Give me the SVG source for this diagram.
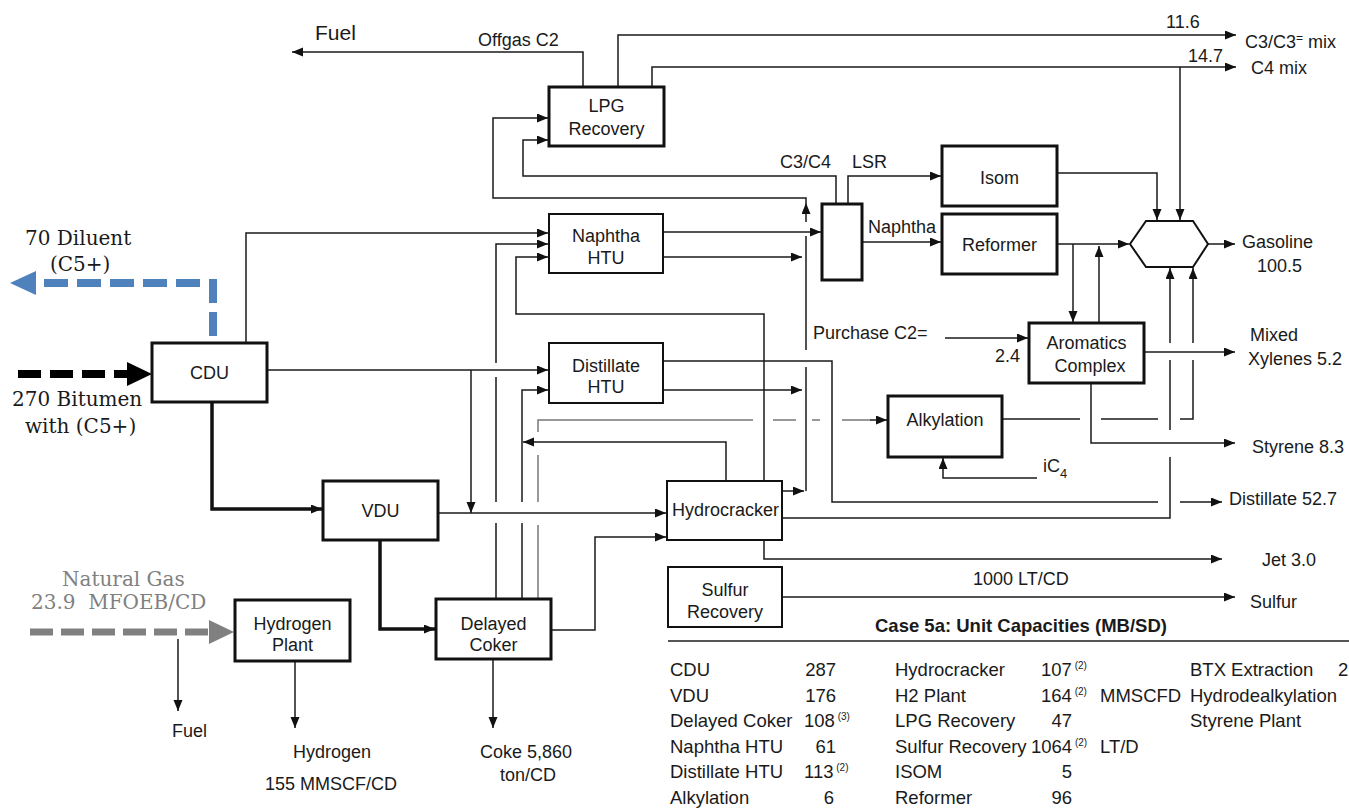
<svg xmlns="http://www.w3.org/2000/svg" width="1349" height="808" viewBox="0 0 1349 808">
<defs>
<marker id="arr" markerUnits="userSpaceOnUse" markerWidth="12" markerHeight="10" refX="11" refY="4.5" orient="auto"><path d="M0,0 L11,4.5 L0,9 z" fill="#111"/></marker>
<style>
text{font-family:"Liberation Sans",Arial,sans-serif;font-size:18px;fill:#1a1a1a}
.box{fill:#fff;stroke:#111;stroke-width:3}
.thin{fill:#fff;stroke:#111;stroke-width:2}
.c{fill:none;stroke:#1a1a1a;stroke-width:1.5}
.ca{fill:none;stroke:#1a1a1a;stroke-width:1.5;marker-end:url(#arr)}
.thick{fill:none;stroke:#111;stroke-width:3.5;marker-end:url(#arr)}
.gr{fill:none;stroke:#777;stroke-width:1.5}
.serif{font-family:"DejaVu Serif","Liberation Serif",serif;font-size:20px}
.tb{font-size:18.5px}
.sup{font-size:10px}
</style>
</defs>
<rect width="1349" height="808" fill="#fff"/>

<g id="connectors">
<path class="ca" d="M583,87 V52 H292"/>
<path class="ca" d="M618,87 V35 H1236"/>
<path class="ca" d="M652,87 V67 H1236"/>
<path class="ca" d="M1180,67 V220"/>
<path class="ca" d="M806,491 V367 M806,350 V236 M806,222 V203"/>
<path class="ca" d="M806,203 V198 H493 V118 H548"/>
<path class="ca" d="M836,204 V176 H523 V140 H548"/>
<path class="ca" d="M848,204 V176 H941"/>
<path class="ca" d="M862,242 H941"/>
<path class="ca" d="M246,343 V233 H548"/>
<path class="ca" d="M496,599 V523 M496,502 V377 M496,363 V244 H548"/>
<path class="ca" d="M764,481 V314 H516 V257 H548"/>
<path class="ca" d="M663,361 H832 V502 H1158 M1180,502 H1222"/>
<path class="ca" d="M663,390 H802"/>
<path class="ca" d="M663,257 H802"/>
<path class="ca" d="M663,232 H821"/>
<path class="ca" d="M267,370 H548"/>
<path class="ca" d="M471,370 V513"/>
<path class="ca" d="M522,599 V523 M522,502 V390 H548"/>
<path class="ca" d="M726,481 V442 H523"/>
<path class="gr" d="M538,599 V525 M538,502 V455 M538,432 V420 H753 M773,420 H796 M812,420 H820 M842,420 H870"/>
<path class="ca" d="M870,420 H887"/>
<path class="ca" d="M438,513 H666"/>
<path class="ca" d="M551,630 H595 V537 H666"/>
<path class="thick" d="M212,402 V509 H322"/>
<path class="thick" d="M380,540 V629 H435"/>
<path class="ca" d="M782,491 H804"/>
<path class="ca" d="M782,518 H1170 V457 M1170,430 V360 M1170,343 V268"/>
<path class="ca" d="M764,540 V559 H1222"/>
<path class="ca" d="M782,597 H1235"/>
<path class="ca" d="M1057,173 H1157 V220"/>
<path class="ca" d="M1057,244 H1129"/>
<path class="ca" d="M1073,244 V322"/>
<path class="ca" d="M1099,323 V246"/>
<path class="ca" d="M1208,244 H1235"/>
<path class="ca" d="M1002,419 H1080 M1101,419 H1158 M1180,419 H1193 V360 M1193,343 V268"/>
<path class="ca" d="M1144,352 H1235"/>
<path class="ca" d="M1091,383 V443 H1235"/>
<path class="ca" d="M945,338 H1028"/>
<path class="ca" d="M1037,478 H943 V458"/>
<path d="M213,336 V283 H34" fill="none" stroke="#4f81bd" stroke-width="8" stroke-dasharray="24 9"/>
<polygon points="10,283 36,271 36,295" fill="#4f81bd"/>
<path d="M18,374 H127" fill="none" stroke="#000" stroke-width="8" stroke-dasharray="23 9"/>
<polygon points="127,362 152,374 127,386" fill="#000"/>
<path d="M30,632 H210" fill="none" stroke="#808080" stroke-width="7" stroke-dasharray="23 8"/>
<polygon points="209,620 234,632 209,644" fill="#808080"/>
<path class="ca" d="M178,639 V711"/>
<path class="ca" d="M295,661 V728"/>
<path class="ca" d="M493,659 V728"/>
</g>

<g id="lpg"><rect class="box" x="549" y="87" width="115" height="59"/><text x="606.5" y="112" text-anchor="middle">LPG</text><text x="606.5" y="135" text-anchor="middle">Recovery</text></g>
<g id="naphtha-htu"><rect class="thin" x="549" y="214" width="114" height="59"/><text x="606" y="242" text-anchor="middle">Naphtha</text><text x="606" y="264" text-anchor="middle">HTU</text></g>
<g id="distillate-htu"><rect class="thin" x="549" y="343" width="114" height="60"/><text x="606" y="372" text-anchor="middle">Distillate</text><text x="606" y="393" text-anchor="middle">HTU</text></g>
<g id="cdu"><rect class="box" x="152" y="343" width="115" height="59"/><text x="209.5" y="379" text-anchor="middle">CDU</text></g>
<g id="vdu"><rect class="box" x="323" y="481" width="115" height="59"/><text x="380.5" y="517" text-anchor="middle">VDU</text></g>
<g id="hydrogen-plant"><rect class="box" x="235" y="600" width="115" height="61"/><text x="292.5" y="630" text-anchor="middle">Hydrogen</text><text x="292.5" y="651" text-anchor="middle">Plant</text></g>
<g id="delayed-coker"><rect class="box" x="436" y="599" width="115" height="60"/><text x="493.5" y="630" text-anchor="middle">Delayed</text><text x="493.5" y="651" text-anchor="middle">Coker</text></g>
<g id="hydrocracker"><rect class="thin" x="667" y="481" width="115" height="59"/><text x="672" y="516">Hydrocracker</text></g>
<g id="sulfur-recovery"><rect class="thin" x="668" y="567" width="114" height="60"/><text x="725" y="596" text-anchor="middle">Sulfur</text><text x="725" y="618" text-anchor="middle">Recovery</text></g>
<g id="splitter"><rect class="box" x="822" y="204" width="40" height="76" stroke-width="2.5"/></g>
<g id="isom"><rect class="box" x="942" y="146" width="115" height="60"/><text x="999.5" y="184" text-anchor="middle">Isom</text></g>
<g id="reformer"><rect class="box" x="942" y="214" width="115" height="60"/><text x="999.5" y="251" text-anchor="middle">Reformer</text></g>
<g id="aromatics"><rect class="box" x="1029" y="323" width="115" height="60"/><text x="1086.5" y="349" text-anchor="middle">Aromatics</text><text x="1090" y="372" text-anchor="middle">Complex</text></g>
<g id="alkylation"><rect class="box" x="888" y="396" width="114" height="61"/><text x="945" y="426" text-anchor="middle">Alkylation</text></g>
<g id="gasoline-blender"><polygon points="1130,244 1146,221 1193,221 1208,244 1193,267 1146,267" fill="#fff" stroke="#111" stroke-width="2"/></g>

<g id="labels">
<text x="315" y="40" style="font-size:21px">Fuel</text>
<text x="478" y="46">Offgas C2</text>
<text x="1166" y="28">11.6</text>
<text x="1188" y="62">14.7</text>
<text x="1245" y="48">C3/C3<tspan dy="-6" style="font-size:12px">=</tspan><tspan dy="6"> mix</tspan></text>
<text x="1251" y="74">C4 mix</text>
<text x="780" y="168">C3/C4</text>
<text x="852" y="168">LSR</text>
<text x="868" y="233">Naphtha</text>
<text x="1242" y="248">Gasoline</text>
<text x="1257" y="272">100.5</text>
<text x="813" y="339">Purchase C2=</text>
<text x="995" y="362">2.4</text>
<text x="1250" y="341">Mixed</text>
<text x="1248" y="365">Xylenes 5.2</text>
<text x="1252" y="453">Styrene 8.3</text>
<text x="1043" y="472">iC<tspan dy="6" style="font-size:13px">4</tspan></text>
<text x="1229" y="505">Distillate 52.7</text>
<text x="1262" y="566">Jet 3.0</text>
<text x="973" y="585">1000 LT/CD</text>
<text x="1250" y="608">Sulfur</text>
<text class="serif" x="25" y="245">70 Diluent</text>
<text class="serif" x="50" y="271">(C5+)</text>
<text class="serif" x="12" y="406">270 Bitumen</text>
<text class="serif" x="25" y="433">with (C5+)</text>
<text class="serif" x="62" y="586" style="fill:#808080">Natural Gas</text>
<text class="serif" x="31" y="609" style="fill:#808080" xml:space="preserve">23.9  MFOEB/CD</text>
<text x="172" y="737">Fuel</text>
<text x="293" y="758">Hydrogen</text>
<text x="265" y="790">155 MMSCF/CD</text>
<text x="480" y="758">Coke 5,860</text>
<text x="500" y="781">ton/CD</text>
</g>

<g id="table">
<text x="875" y="632" style="font-weight:bold;font-size:18.5px">Case 5a: Unit Capacities (MB/SD)</text>
<line x1="668" y1="641" x2="1349" y2="641" stroke="#555" stroke-width="2"/>
<text class="tb" x="670" y="676">CDU</text><text class="tb" x="836" y="676" text-anchor="end">287</text>
<text class="tb" x="670" y="702">VDU</text><text class="tb" x="836" y="702" text-anchor="end">176</text>
<text class="tb" x="670" y="727">Delayed Coker</text><text class="tb" x="804" y="727">108<tspan class="sup" dy="-7"> (3)</tspan></text>
<text class="tb" x="670" y="753">Naphtha HTU</text><text class="tb" x="836" y="753" text-anchor="end">61</text>
<text class="tb" x="670" y="778">Distillate HTU</text><text class="tb" x="804" y="778">113<tspan class="sup" dy="-7"> (2)</tspan></text>
<text class="tb" x="670" y="804">Alkylation</text><text class="tb" x="834" y="804" text-anchor="end">6</text>
<text class="tb" x="895" y="676">Hydrocracker</text><text class="tb" x="1041" y="676">107<tspan class="sup" dy="-7"> (2)</tspan></text>
<text class="tb" x="895" y="702">H2 Plant</text><text class="tb" x="1041" y="702">164<tspan class="sup" dy="-7"> (2)</tspan></text><text class="tb" x="1100" y="702">MMSCFD</text>
<text class="tb" x="895" y="727">LPG Recovery</text><text class="tb" x="1072" y="727" text-anchor="end">47</text>
<text class="tb" x="895" y="753">Sulfur Recovery</text><text class="tb" x="1031" y="753">1064<tspan class="sup" dy="-7"> (2)</tspan></text><text class="tb" x="1100" y="753">LT/D</text>
<text class="tb" x="895" y="778">ISOM</text><text class="tb" x="1072" y="778" text-anchor="end">5</text>
<text class="tb" x="895" y="804">Reformer</text><text class="tb" x="1072" y="804" text-anchor="end">96</text>
<text class="tb" x="1190" y="676">BTX Extraction</text><text class="tb" x="1338" y="676">2</text>
<text class="tb" x="1190" y="702">Hydrodealkylation</text>
<text class="tb" x="1190" y="727">Styrene Plant</text>
</g>
</svg>
